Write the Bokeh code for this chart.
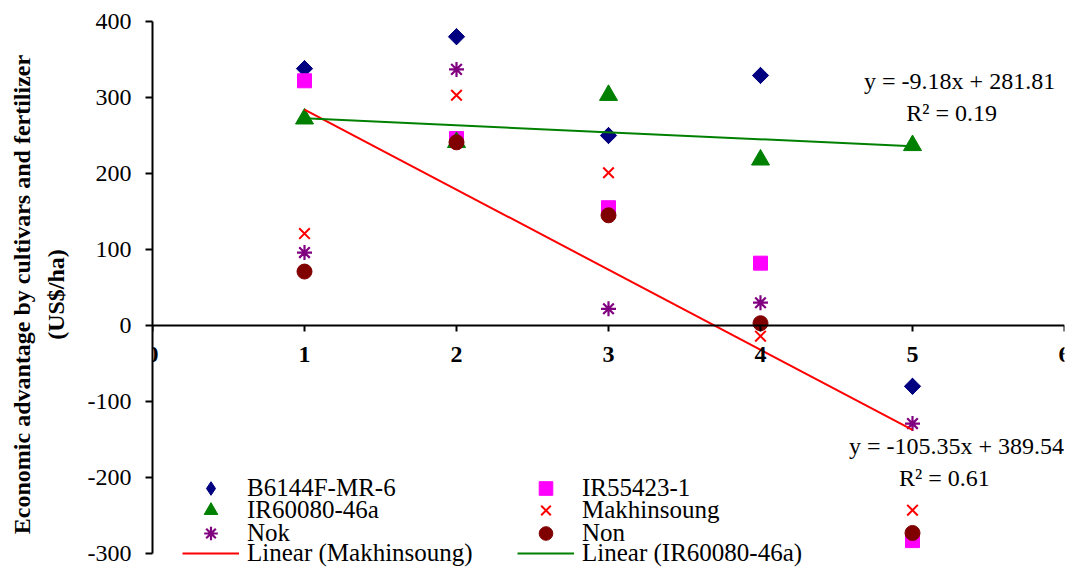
import numpy as np
from bokeh.plotting import figure
from bokeh.models import Range1d, FixedTicker, Legend, LegendItem, Label, PrintfTickFormatter
from bokeh.embed import file_html
from bokeh.resources import INLINE

# ---------------- data ----------------
x_vals = [1, 2, 3, 4, 5]
b6144f = [338, 380, 250, 329, -80]
ir55423 = [322, 246, 155, 82, -283]
ir60080 = [272, 241, 303, 218, 237]
makhinsoung = [121, 303, 201, -14, -243]
nok = [96, 337, 22, 30, -129]
non = [71, 241, 145, 3, -273]

# printed trendline equations
mak_slope, mak_intercept, mak_r2 = -105.35, 389.54, 0.61
ir6_slope, ir6_intercept, ir6_r2 = -9.18, 281.81, 0.19

y_ticks = [-300, -200, -100, 0, 100, 200, 300, 400]
x_ticks = [0, 1, 2, 3, 4, 5, 6]

FONT = "Liberation Serif"

# frame extends a little below -300 so the legend below it is not clipped
p = figure(width=1071, height=567, output_backend="svg", toolbar_location=None,
           x_range=Range1d(0, 6), y_range=Range1d(-318.4, 400),
           min_border_left=152, min_border_right=7, min_border_top=21,
           min_border_bottom=0)
p.outline_line_color = None
p.grid.visible = False
p.background_fill_color = "white"

# axes
xa = p.xaxis[0]
xa.fixed_location = 0
xa.ticker = FixedTicker(ticks=x_ticks)
xa.major_tick_in = 0
xa.major_tick_out = 6
xa.minor_tick_line_color = None
xa.axis_line_width = 2
xa.major_tick_line_width = 2
xa.major_label_text_font = FONT
xa.major_label_text_font_style = "bold"
xa.major_label_text_font_size = "24px"
xa.major_label_standoff = 15
xa.major_label_text_color = "black"

ya = p.yaxis[0]
ya.ticker = FixedTicker(ticks=y_ticks)
ya.formatter = PrintfTickFormatter(format="%d")
ya.bounds = (-300, 400)
ya.major_tick_in = 0
ya.major_tick_out = 7
ya.minor_tick_line_color = None
ya.axis_line_width = 2
ya.major_tick_line_width = 2
ya.major_label_text_font = FONT
ya.major_label_text_font_size = "24px"
ya.major_label_standoff = 14
ya.major_label_text_color = "black"
ya.axis_label = "Economic advantage by cultivars and fertilizer\n(US$/ha)"
ya.axis_label_text_font = FONT
ya.axis_label_text_font_style = "bold"
ya.axis_label_text_font_size = "24px"
ya.axis_label_text_line_height = 1.3
ya.axis_label_standoff = 16
ya.axis_label_text_color = "black"

# scatter series
# B6144F-MR-6: a diamond (used for the legend) under a rotated square (plot shape)
r_b = p.scatter(x_vals, b6144f, marker="diamond", size=16,
                fill_color="#000080", line_color="#000080")
p.scatter(x_vals, b6144f, marker="square", angle=np.pi / 4, size=11.5,
          fill_color="#000080", line_color="#000080")
r_s = p.scatter(x_vals, ir55423, marker="square", size=14,
                fill_color="#FF00FF", line_color="#FF00FF")
r_t = p.scatter(x_vals, ir60080, marker="triangle", size=18,
                fill_color="#008000", line_color="#008000")
r_x = p.scatter(x_vals, makhinsoung, marker="x", size=15,
                line_color="#FF0000", line_width=2)
r_a = p.scatter(x_vals, nok, marker="asterisk", size=15,
                line_color="#800080", line_width=2.2)
r_c = p.scatter(x_vals, non, marker="circle", size=15,
                fill_color="#800000", line_color="#800000")

# trendlines from printed equations
xs = np.array([x_vals[0], x_vals[-1]], dtype=float)
r_lm = p.line(xs, mak_slope * xs + mak_intercept, line_color="#FF0000", line_width=2)
r_lg = p.line(xs, ir6_slope * xs + ir6_intercept, line_color="#008000", line_width=2)

# equation labels
def add_label(txt, x, y):
    p.add_layout(Label(x=x, y=y, text=txt, text_font=FONT, text_font_size="24px",
                       text_align="center", text_baseline="middle", text_color="black"))

add_label(f"y = {ir6_slope}x + {ir6_intercept}", 5.31, 322)
add_label(f"R² = {ir6_r2}", 5.257, 280)
add_label(f"y = {mak_slope}x + {mak_intercept}", 5.29, -159)
add_label(f"R² = {mak_r2}", 5.21, -201)

# legend: one horizontal legend per row, two fixed-width columns
def make_row(items, loc):
    lg = Legend(items=items, location=loc, orientation="horizontal",
                label_text_font=FONT, label_text_font_size="25px",
                label_text_color="black",
                glyph_width=57, glyph_height=34, label_height=20, label_width=270,
                spacing=0, label_standoff=8, padding=0, margin=0,
                border_line_color=None, background_fill_alpha=0)
    p.add_layout(lg, "center")

make_row([LegendItem(label="B6144F-MR-6", renderers=[r_b]),
          LegendItem(label="IR55423-1", renderers=[r_s])], (30, 62))
make_row([LegendItem(label="IR60080-46a", renderers=[r_t]),
          LegendItem(label="Makhinsoung", renderers=[r_x])], (30, 40))
make_row([LegendItem(label="Nok", renderers=[r_a]),
          LegendItem(label="Non", renderers=[r_c])], (30, 17))
make_row([LegendItem(label="Linear (Makhinsoung)", renderers=[r_lm]),
          LegendItem(label="Linear (IR60080-46a)", renderers=[r_lg])], (30, -3))

open("out.html", "w").write(file_html(p, INLINE))
